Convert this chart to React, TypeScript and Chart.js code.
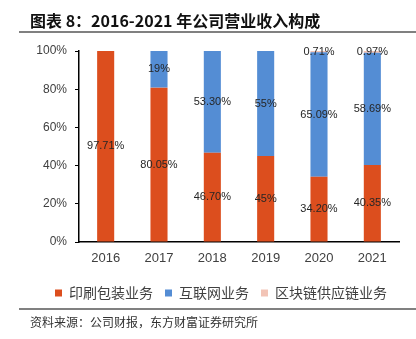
import React, { useEffect, useRef } from "react";
import { Chart, registerables } from "chart.js";

Chart.register(...registerables);

const years = ["2016", "2017", "2018", "2019", "2020", "2021"];
// raw shares as reported (percent text), blank = none
const printing = ["97.71", "80.05", "46.70", "45", "34.20", "40.35"];
const internet = ["", "19", "53.30", "55", "65.09", "58.69"];
const blockchain = ["", "", "", "", "0.71", "0.97"];
const seriesNames = ["印刷包装业务", "互联网业务", "区块链供应链业务"];
const colors = ["#DC4E1E", "#548DD4", "#F2C4B6"];
const yTicks = [0, 20, 40, 60, 80, 100];

const raw = [printing, internet, blockchain];
const num = (s: string) => (s === "" ? 0 : parseFloat(s));
const totals = years.map((_, i) => raw.reduce((a, s) => a + num(s[i]), 0));
const shares = raw.map((s) => s.map((v, i) => (v === "" ? null : (num(v) / totals[i]) * 100)));

const labelPlugin = {
  id: "segLabels",
  afterDatasetsDraw(chart: any) {
    const ctx = chart.ctx;
    ctx.save();
    ctx.font = "11px 'Liberation Sans', Arial, sans-serif";
    ctx.fillStyle = "#262626";
    ctx.textAlign = "center";
    ctx.textBaseline = "middle";
    chart.data.datasets.forEach((ds: any, di: number) => {
      const meta = chart.getDatasetMeta(di);
      meta.data.forEach((el: any, i: number) => {
        const txt = raw[di][i];
        if (txt === "") return;
        const y = (el.y + el.base) / 2;
        ctx.fillText(txt + "%", el.x, y);
      });
    });
    ctx.restore();
  },
};

export default function App() {
  const ref = useRef<HTMLCanvasElement>(null);
  useEffect(() => {
    const chart = new Chart(ref.current as HTMLCanvasElement, {
      type: "bar",
      data: {
        labels: years,
        datasets: seriesNames.map((n, k) => ({
          label: n,
          data: shares[k],
          backgroundColor: colors[k],
          borderWidth: 0,
          barPercentage: 0.32,
          categoryPercentage: 1,
        })),
      },
      options: {
        animation: false,
        responsive: false,
        devicePixelRatio: 1,
        layout: { padding: { left: 0, right: 17, top: 51, bottom: 29 } },
        plugins: {
          tooltip: { enabled: false },
          legend: {
            position: "bottom",
            align: "end",
            labels: {
              boxWidth: 7,
              boxHeight: 7,
              padding: 12,
              color: "#404040",
              font: { size: 14, family: "'Noto Sans CJK SC', sans-serif" },
            },
          },
        },
        scales: {
          x: {
            stacked: true,
            grid: { display: false },
            border: { color: "#000", width: 1.5 },
            ticks: {
              color: "#404040",
              padding: 1,
              font: { size: 13, family: "'Liberation Sans', Arial, sans-serif" },
            },
            afterFit: (s: any) => {
              s.height = 32;
            },
          },
          y: {
            stacked: true,
            min: 0,
            max: 100,
            afterBuildTicks: (s: any) => {
              s.ticks = yTicks.map((v) => ({ value: v }));
            },
            grid: { display: true, drawOnChartArea: false, drawTicks: true, tickLength: 4, color: "#000" },
            border: { color: "#000", width: 1.5 },
            ticks: {
              color: "#404040",
              padding: 8,
              font: { size: 12, family: "'Liberation Sans', Arial, sans-serif" },
              callback: (v: any) => v + "%",
            },
            afterFit: (s: any) => {
              s.width = 79;
            },
          },
        },
      },
      plugins: [labelPlugin],
    } as any);
    return () => chart.destroy();
  }, []);

  return (
    <div style={{ position: "fixed", left: 0, top: 0, width: 416, height: 339, background: "#fff", overflow: "hidden" }}>
      <canvas ref={ref} width={416} height={339} style={{ position: "absolute", left: 0, top: 0, width: 416, height: 339 }} />
      <div
        style={{
          position: "absolute",
          left: 30,
          top: 8,
          fontFamily: "'Noto Sans CJK SC', sans-serif",
          fontWeight: 700,
          fontSize: 16,
          lineHeight: "24px",
          color: "#111",
          whiteSpace: "nowrap",
        }}
      >
        图表 8：2016-2021 年公司营业收入构成
      </div>
      <div style={{ position: "absolute", left: 19, top: 31, width: 397, height: 2, background: "#808080" }} />
      <div style={{ position: "absolute", left: 19, top: 308, width: 397, height: 1.5, background: "#808080" }} />
      <div
        style={{
          position: "absolute",
          left: 30,
          top: 313,
          fontFamily: "'Noto Sans CJK SC', sans-serif",
          fontSize: 12,
          lineHeight: "18px",
          color: "#333",
          whiteSpace: "nowrap",
        }}
      >
        资料来源：公司财报，东方财富证券研究所
      </div>
    </div>
  );
}
